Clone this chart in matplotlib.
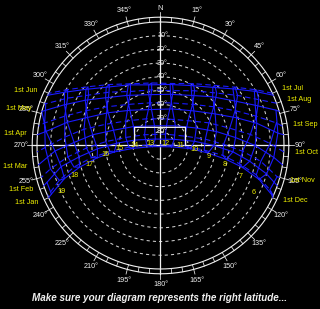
import numpy as np
import matplotlib
matplotlib.use('Agg')
from matplotlib import pyplot as plt

# === DATA ===

months = ['Jan', 'Feb', 'Mar', 'Apr', 'May', 'Jun', 'Jul', 'Aug', 'Sep', 'Oct', 'Nov', 'Dec']
hours = [6, 7, 8, 9, 10, 11, 12, 13, 14, 15, 16, 17, 18, 19]

# sun position (azimuth, altitude) in deg at each clock hour on the 1st of the month, None = below horizon
sun_jan = [(114, 1), (109, 14), (105, 28), (102, 41), (99, 55), (96, 68), (97, 82), (262, 84), (264, 70), (262, 56), (259, 43), (255, 29), (251, 16), (246, 3)]
sun_feb = [None, (105, 10), (100, 24), (95, 37), (90, 51), (83, 65), (66, 79), (321, 84), (282, 71), (273, 58), (267, 44), (262, 30), (258, 16), (252, 3)]
sun_mar = [None, (96, 7), (90, 21), (84, 35), (76, 48), (64, 61), (37, 72), (343, 75), (305, 66), (288, 54), (279, 40), (272, 27), (267, 13), None]
sun_apr = [None, (84, 4), (77, 18), (70, 31), (60, 44), (44, 55), (18, 62), (346, 63), (319, 56), (302, 45), (291, 33), (284, 20), (277, 6), None]
sun_may = [None, (73, 2), (67, 15), (59, 27), (47, 38), (32, 47), (11, 52), (347, 52), (326, 46), (311, 37), (301, 26), (293, 14), (286, 0), None]
sun_jun = [None, None, (60, 11), (52, 23), (42, 33), (27, 41), (9, 45), (349, 45), (332, 40), (317, 32), (307, 22), (299, 10), None, None]
sun_jul = [None, None, (60, 9), (52, 21), (42, 31), (28, 39), (11, 44), (352, 44), (334, 40), (320, 32), (309, 22), (301, 11), None, None]
sun_aug = [None, None, (65, 11), (57, 23), (47, 34), (32, 43), (13, 49), (351, 49), (331, 45), (316, 36), (305, 26), (297, 14), (290, 1), None]
sun_sep = [None, (79, 4), (73, 17), (65, 30), (54, 42), (38, 52), (14, 58), (346, 58), (322, 52), (306, 42), (295, 30), (287, 17), (281, 4), None]
sun_oct = [None, (89, 10), (83, 24), (76, 38), (65, 51), (48, 63), (15, 70), (332, 68), (305, 59), (291, 47), (282, 33), (275, 20), (269, 6), None]
sun_nov = [(105, 2), (99, 16), (94, 30), (89, 44), (82, 57), (69, 71), (23, 81), (304, 76), (283, 64), (274, 50), (268, 36), (263, 22), (258, 8), None]
sun_dec = [(112, 4), (107, 17), (103, 31), (99, 44), (96, 58), (92, 72), (83, 86), (272, 80), (267, 67), (263, 53), (260, 39), (256, 25), (251, 12), None]

# sunrise / sunset azimuth on the 1st of each month
rise_az = [115, 109, 99, 85, 74, 66, 65, 70, 81, 93, 105, 114]
set_az = [245, 251, 261, 275, 286, 294, 295, 290, 279, 267, 255, 246]

alt_rings = [10, 20, 30, 40, 50, 60, 70, 80]
az_labels = list(range(15, 360, 15))

# white box near the zenith (azimuth, zenith distance)
box_az = [270, 305, 54, 90]
box_zen = [19, 23, 22.5, 18.3]

title = 'Make sure your diagram represents the right latitude...'

# === STYLE ===
BLUE = '#1a1aff'
YELLOW = '#f0f000'
WHITE = '#f0f0f0'
GREY = '#d0d0d0'
FONT = 'Liberation Sans'
R_PX = 123.5  # horizon radius in pixels

sun_paths = [sun_jan, sun_feb, sun_mar, sun_apr, sun_may, sun_jun,
             sun_jul, sun_aug, sun_sep, sun_oct, sun_nov, sun_dec]

fig = plt.figure(figsize=(3.2, 3.09), dpi=100, facecolor='black')
ax = fig.add_axes([0.1156, 0.1295, 0.7719, 0.7994], projection='polar')
ax.set_theta_zero_location('N')
ax.set_theta_direction(-1)
ax.axis('off')
ax.set_rlim(0, 90)

th = np.linspace(0, 2 * np.pi, 721)

# altitude rings
for a in alt_rings:
    ax.plot(th, np.full_like(th, 90 - a), color=GREY, lw=0.75, ls=(0, (3, 3)))
    ax.annotate(f'{a}°', (0, 90 - a), xytext=(2, 0), textcoords='offset pixels',
                ha='center', va='center', color=WHITE, fontsize=5.2, family=FONT)

# horizon band
ax.plot(th, np.full_like(th, 90), color=WHITE, lw=0.8, clip_on=False)
ax.plot(th, np.full_like(th, 93.5), color=WHITE, lw=0.8, clip_on=False)
for d in range(0, 360, 5):
    r_end = 97 if d % 15 == 0 else 93.5
    ax.plot([np.radians(d)] * 2, [90, r_end], color=WHITE, lw=0.55, clip_on=False)

# cross hairs
for d in (0, 90, 180, 270):
    ax.plot([np.radians(d)] * 2, [0, 93.5], color=WHITE, lw=0.9, clip_on=False)

# azimuth labels
ax.text(0, 99.5, 'N', ha='center', va='center', color=WHITE, fontsize=5.5, family=FONT)
for d in az_labels:
    ax.text(np.radians(d), 101.5, f'{d}°', ha='center', va='center',
            color=WHITE, fontsize=5.2, family=FONT)

# date lines (Jan-Jun solid, Jul-Dec dashed)
for i, path in enumerate(sun_paths):
    pts = [(rise_az[i], 0)] + [p for p in path if p is not None] + [(set_az[i], 0)]
    az = np.radians([p[0] for p in pts])
    zen = [90 - p[1] for p in pts]
    ls = '-' if i < 6 else (0, (5, 3))
    ax.plot(az, zen, color=BLUE, lw=0.8, ls=ls, clip_on=False)

# hour lines: same clock hour through the year
for k, h in enumerate(hours):
    seq = [path[k] for path in sun_paths] + [sun_jan[k]]
    az = np.array([np.radians(p[0]) if p else np.nan for p in seq])
    zen = np.array([90 - p[1] if p else np.nan for p in seq])
    ax.plot(az, zen, color=BLUE, lw=0.8)

    # hour label beside the January node, pulled towards the middle
    a, alt = sun_jan[k]
    x_node = (90 - alt) * R_PX / 90 * np.sin(np.radians(a))
    dx = -4 - np.clip(0.2 * x_node, -14, 14)
    ax.annotate(str(h), (np.radians(a), 90 - alt), xytext=(dx, 3),
                textcoords='offset pixels', ha='center', va='center',
                color=YELLOW, fontsize=5.2, family=FONT)

# month labels
for i, m in enumerate(months):
    if i < 6:
        ax.text(np.radians(set_az[i]), 98, f'1st {m}', ha='right', va='center',
                color=YELLOW, fontsize=5.2, family=FONT)
    else:
        ax.text(np.radians(rise_az[i]), 98, f'1st {m}', ha='left', va='center',
                color=YELLOW, fontsize=5.2, family=FONT)

# box
ax.plot(np.radians(box_az), box_zen, color=WHITE, lw=0.9)

fig.text(0.5, 1 - 298 / 309, title, ha='center', va='center', color=WHITE,
         fontsize=7.1, fontweight='bold', fontstyle='italic', family=FONT)

fig.savefig('out.png', dpi=100, facecolor='black')
